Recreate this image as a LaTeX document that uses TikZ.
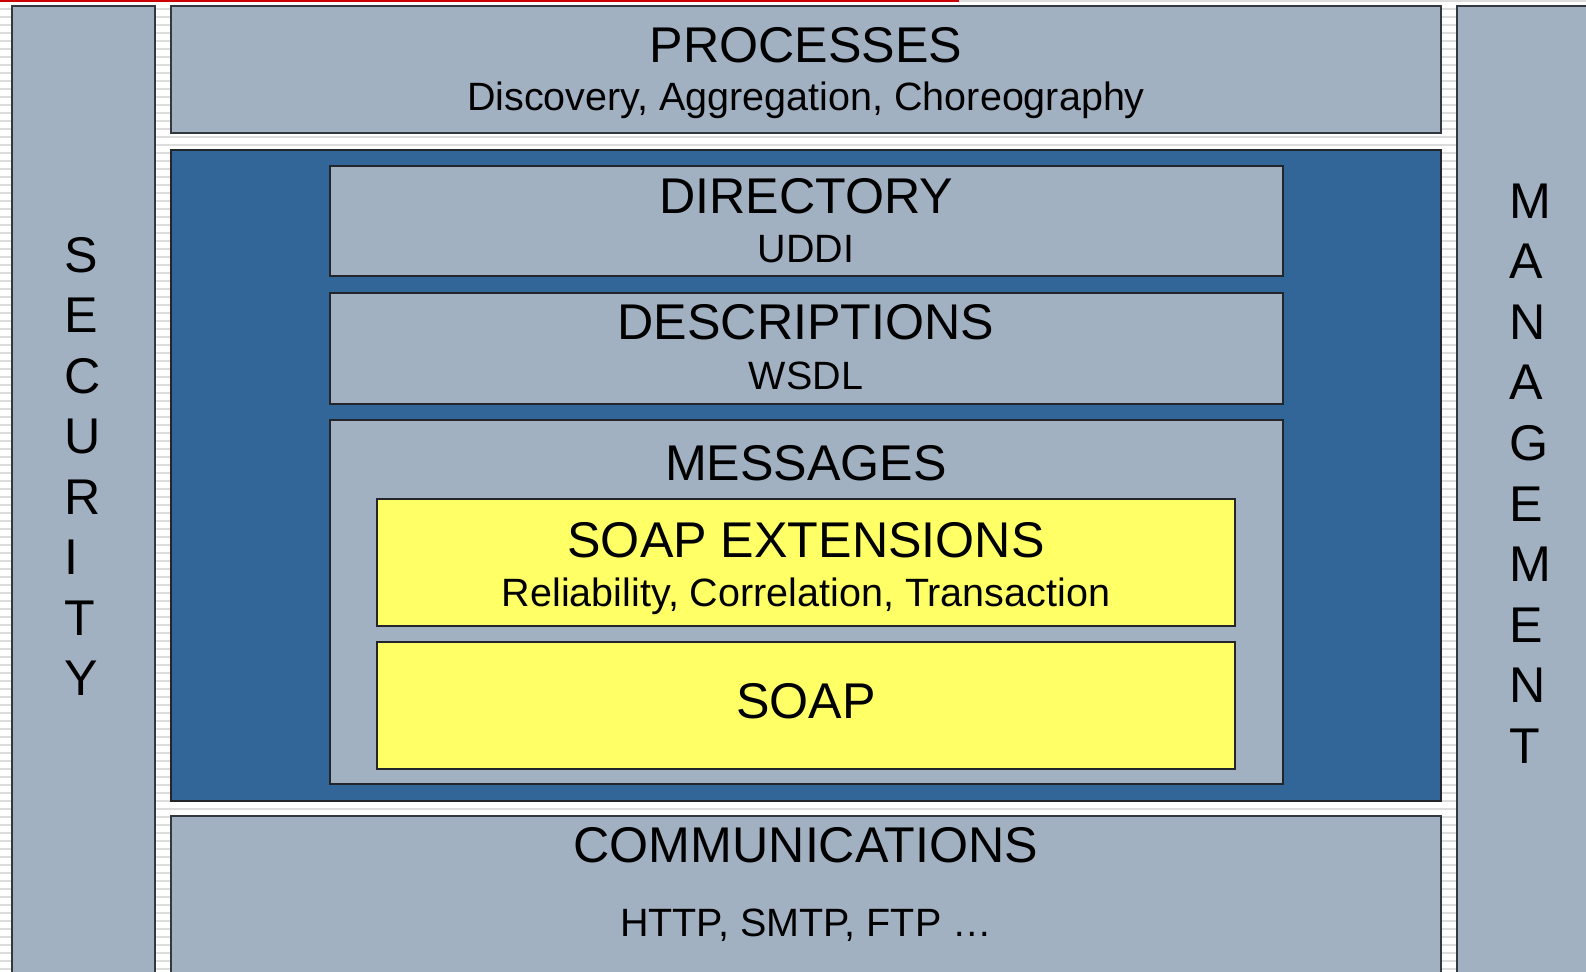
\documentclass[tikz,border=0pt]{standalone}
\usepackage{fontspec}
\setmainfont{Liberation Sans}
\definecolor{panelc}{HTML}{A2B1C2}
\definecolor{bluec}{HTML}{326699}
\definecolor{yellowc}{HTML}{FFFF66}
\definecolor{stripec}{HTML}{DCDCDC}
\definecolor{redc}{HTML}{CC0000}
\definecolor{edgec}{HTML}{33383E}
\definecolor{edgeb}{HTML}{22262A}
\tikzset{
  panel/.style={fill=panelc, draw=edgec, line width=1pt},
  bluebox/.style={fill=bluec, draw=edgeb, line width=1pt},
  innerbox/.style={fill=panelc, draw=edgeb, line width=0.75pt},
  yellowbox/.style={fill=yellowc, draw=edgeb, line width=0.75pt},
  titletext/.style={inner sep=0pt, anchor=base, font=\fontsize{25.1}{30}\selectfont},
  subtext/.style={inner sep=0pt, anchor=base, font=\fontsize{19.75}{23}\selectfont},
  lettertext/.style={inner sep=0pt, anchor=base west, font=\fontsize{25.1}{30}\selectfont}
}
\begin{document}
\begin{tikzpicture}[x=0.5pt,y=-0.5pt]
\useasboundingbox (0,0) rectangle (1586,971);
\clip (0,0) rectangle (1586,971);
\fill[white] (0,0) rectangle (1586,971);
\foreach \k in {0,...,122} \fill[stripec] (0,{8*\k}) rectangle (1586,{8*\k+2.4});
\fill[redc] (0,0) rectangle (959,2);
% side columns
\draw[panel] (12,6) rectangle (155,1000);
\draw[panel] (1457,6) rectangle (1640,1000);
% main layers
\draw[panel] (171,6) rectangle (1441,133);
\draw[bluebox] (171,150) rectangle (1441,800.5);
\draw[panel] (171,816) rectangle (1441,1000);
% inner boxes
\draw[innerbox] (330,166) rectangle (1283,276);
\draw[innerbox] (330,293) rectangle (1283,404);
\draw[innerbox] (330,420) rectangle (1283,784);
\draw[yellowbox] (377,499) rectangle (1235,626);
\draw[yellowbox] (377,642) rectangle (1235,769);
% texts
\node[titletext] (proc) at (806,62) {PROCESSES};
\node[subtext] (procsub) at (806,110) {Discovery, Aggregation, Choreography};
\node[titletext] (dir) at (806,213) {DIRECTORY};
\node[subtext] (dirsub) at (806,262) {UDDI};
\node[titletext] (desc) at (806,339.5) {DESCRIPTIONS};
\node[subtext] (descsub) at (806,389) {WSDL};
\node[titletext] (msg) at (806,480) {MESSAGES};
\node[titletext] (soapx) at (806,557.5) {SOAP EXTENSIONS};
\node[subtext] (soapxsub) at (806,606) {Reliability, Correlation, Transaction};
\node[titletext] (soap) at (806,718) {SOAP};
\node[titletext] (comm) at (806,862.5) {COMMUNICATIONS};
\node[subtext] (commsub) at (806,936.5) {HTTP, SMTP, FTP \ldots};
% vertical words
\foreach \l [count=\i from 0] in {S,E,C,U,R,I,T,Y}
  \node[lettertext] (sec\i) at (64,{272+60.5*\i}) {\l};
\foreach \l [count=\i from 0] in {M,A,N,A,G,E,M,E,N,T}
  \node[lettertext] (man\i) at (1509,{218+60.6*\i}) {\l};
\end{tikzpicture}
\end{document}
